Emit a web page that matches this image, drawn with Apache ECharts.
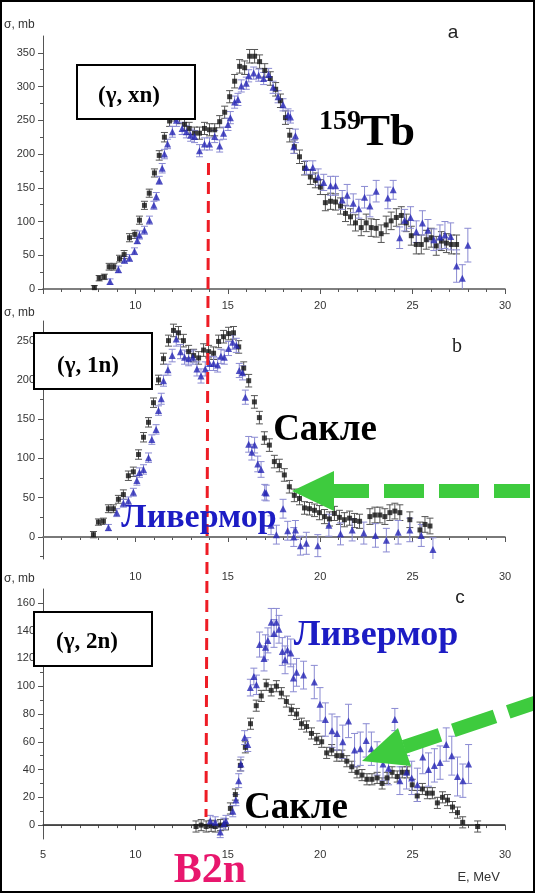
<!DOCTYPE html>
<html><head><meta charset="utf-8">
<script src="https://cdn.jsdelivr.net/npm/echarts@6/dist/echarts.min.js"></script>
<style>html,body{margin:0;padding:0;background:#fff}#c{width:535px;height:893px}</style>
</head><body><div id="c"></div>
<script>
// ---- tick labels ----
const xLabelsAB = [10, 15, 20, 25, 30];
const xLabelsC = [5, 10, 15, 20, 25, 30];
const yTicksA = [0, 50, 100, 150, 200, 250, 300, 350];
const yMinorA = [25, 75, 125, 175, 225, 275, 325];
const yTicksB = [0, 50, 100, 150, 200, 250];
const yMinorB = [-25, 25, 75, 125, 175, 225];
const yTicksC = [0, 20, 40, 60, 80, 100, 120, 140, 160];
const yMinorC = [10, 30, 50, 70, 90, 110, 130, 150];

// ---- data: [E (MeV), sigma (mb), error (mb)] ----
const saclayXn = [[7.78,2,3],[8.04,16,4],[8.32,18,4],[8.58,33,5],[8.83,33,5],[9.14,45,5],[9.39,51,6],[9.68,76,6],[9.97,81,6],[10.22,102,6],[10.49,124,6],[10.75,142,6],[11.03,172,6],[11.29,198,7],[11.57,225,7],[11.85,249,8],[12.12,258,9],[12.39,254,9],[12.66,244,9],[12.91,238,9],[13.2,231,9],[13.47,231,9],[13.74,238,9],[14.01,236,9],[14.29,236,9],[14.56,248,9],[14.83,262,9],[15.1,285,9],[15.37,308,10],[15.64,330,10],[15.91,328,10],[16.18,345,10],[16.45,345,10],[16.72,337,10],[17.0,324,10],[17.3,312,10],[17.59,296,10],[17.85,279,10],[18.12,254,10],[18.35,228,10],[18.6,211,10],[18.88,196,10],[19.15,179,10],[19.47,166,11],[19.74,161,11],[20.01,151,11],[20.28,128,12],[20.56,130,12],[20.83,129,12],[21.1,123,12],[21.37,112,12],[21.64,107,12],[21.91,98,12],[22.22,91,12],[22.49,98,13],[22.76,91,13],[23.03,90,13],[23.3,82,13],[23.57,95,13],[23.84,101,13],[24.12,106,13],[24.39,109,13],[24.66,98,13],[24.93,79,14],[25.2,66,14],[25.47,66,14],[25.74,73,14],[26.01,76,14],[26.28,64,14],[26.56,71,14],[26.83,68,14],[27.1,66,14],[27.38,66,14]];
const livermoreXn = [[8.63,11,4],[9.08,29,5],[9.41,43,5],[9.68,46,5],[9.95,56,5],[10.1,72,5],[10.22,80,6],[10.49,87,6],[10.76,102,6],[11.0,124,6],[11.13,137,6],[11.29,161,6],[11.45,179,7],[11.57,200,7],[11.74,215,7],[12.0,233,8],[12.22,250,9],[12.53,238,9],[12.76,233,9],[12.99,228,9],[13.2,226,9],[13.47,205,9],[13.74,215,9],[14.01,215,9],[14.29,226,9],[14.56,212,9],[14.77,231,9],[15.01,244,9],[15.14,254,9],[15.37,277,9],[15.55,281,9],[15.73,301,9],[16.0,305,9],[16.13,316,9],[16.4,320,9],[16.67,317,9],[16.94,312,9],[17.21,318,9],[17.45,299,9],[17.72,285,9],[17.99,273,9],[18.26,258,9],[18.39,255,9],[18.57,211,10],[18.66,227,10],[19.25,180,10],[19.6,180,10],[19.89,166,12],[20.19,158,12],[20.56,153,14],[20.83,153,14],[21.19,132,14],[21.46,139,16],[21.79,127,14],[22.09,119,14],[22.4,136,16],[22.69,123,16],[23.03,145,16],[23.66,135,16],[23.95,147,14],[24.3,76,16],[24.57,102,16],[24.89,106,16],[25.2,85,16],[25.53,98,18],[25.83,87,16],[26.15,73,16],[26.48,77,18],[26.75,80,20],[27.06,78,20],[27.38,34,24],[27.69,16,20],[27.99,65,25]];

const saclay1n = [[7.73,3,4],[8.0,19,4],[8.27,20,4],[8.54,36,5],[8.81,36,5],[9.08,48,5],[9.35,54,6],[9.62,78,6],[9.89,83,6],[10.17,105,6],[10.44,127,6],[10.71,146,6],[10.98,171,6],[11.25,200,6],[11.52,227,7],[11.79,250,7],[12.06,263,8],[12.33,260,8],[12.6,250,8],[12.88,236,8],[13.15,231,8],[13.42,228,8],[13.69,238,8],[13.96,236,8],[14.23,234,8],[14.5,249,8],[14.77,255,8],[15.04,259,8],[15.31,260,8],[15.59,242,8],[15.86,215,8],[16.13,199,8],[16.44,172,8],[16.71,152,8],[16.98,126,8],[17.25,117,8],[17.52,96,8],[17.79,91,8],[18.06,79,8],[18.33,64,8],[18.6,53,8],[18.88,49,8],[19.15,37,8],[19.42,36,8],[19.69,34,8],[19.96,31,9],[20.23,26,9],[20.5,23,9],[20.77,30,9],[21.04,25,9],[21.31,22,9],[21.59,24,9],[21.86,21,9],[22.13,20,9],[22.69,26,10],[22.96,28,10],[23.23,28,10],[23.5,26,10],[23.77,31,10],[24.04,33,10],[24.31,31,10],[24.85,22,10],[25.4,9,10],[25.67,16,10],[25.94,14,10]];
const livermore1n = [[8.54,12,4],[8.99,31,5],[9.35,43,5],[9.62,46,5],[9.89,57,5],[10.08,72,6],[10.22,82,6],[10.44,86,6],[10.71,101,6],[10.89,124,6],[11.12,137,6],[11.25,161,6],[11.4,176,7],[11.52,199,7],[11.76,213,7],[11.99,231,8],[12.21,252,9],[12.44,236,9],[12.66,229,9],[12.88,227,9],[13.11,229,9],[13.33,214,9],[13.55,205,9],[13.78,214,9],[14.01,221,9],[14.23,221,9],[14.45,219,9],[14.63,230,9],[14.81,229,9],[15.04,240,9],[15.26,248,9],[15.46,244,9],[15.62,212,9],[15.8,209,9],[15.95,178,9],[16.13,118,10],[16.3,108,10],[16.45,117,10],[16.62,93,10],[16.8,86,10],[17.0,57,10],[17.08,56,10],[17.34,15,12],[17.63,3,12],[17.99,36,12],[18.24,8,12],[18.57,0,12],[18.66,9,12],[18.93,-11,12],[19.25,-8,14],[19.87,-11,14],[20.47,15,14],[21.1,4,14],[21.73,9,14],[22.36,5,14],[22.99,2,15],[23.58,-4,15],[24.22,6,15],[24.85,9,15],[25.47,2,14],[26.1,-16,15]];

const saclay2n = [[13.28,-1,4],[13.56,0,4],[13.83,-1,4],[14.1,-0.5,4],[14.32,-1,4],[14.6,0,4],[14.86,0.5,4],[15.14,12,4],[15.41,22,4],[15.68,43,4],[15.95,56,4],[16.23,73,4],[16.54,86,4],[16.81,93,4],[17.08,101,4],[17.35,97,4],[17.63,100,4],[17.9,95,4],[18.17,89,4],[18.44,83,4],[18.72,80,4],[18.99,73,4],[19.26,71,4],[19.53,66,4],[19.81,62,4],[20.08,60,4],[20.35,52,4],[20.62,54,4],[20.9,50,4],[21.17,50,4],[21.44,46,4],[21.71,42,4],[21.99,38,4],[22.26,36,4],[22.53,33,4],[22.8,33,4],[23.08,34,4],[23.35,30,4],[23.62,34,4],[23.89,38,4],[24.17,35,4],[24.44,38,4],[24.71,38,4],[24.98,29,4],[25.25,21,4],[25.53,26,4],[25.8,23,4],[26.07,23,4],[26.34,16,4],[26.62,20,4],[26.89,18,4],[27.16,13,4],[27.43,9,4],[27.71,2,4],[28.52,-1,4]];
const livermore2n = [[14.05,3,4],[14.32,2,4],[14.59,-5,4],[14.78,1,4],[14.9,3,4],[15.27,10,4],[15.44,18,4],[15.59,32,5],[15.71,44,5],[15.91,63,5],[16.08,58,5],[16.22,99,6],[16.41,107,6],[16.55,101,7],[16.72,130,9],[16.96,120,9],[17.04,128,9],[17.17,133,9],[17.35,146,10],[17.5,138,10],[17.63,146,10],[17.77,141,10],[17.95,125,10],[18.1,119,10],[18.23,126,10],[18.41,124,10],[18.55,106,10],[18.72,110,10],[19.1,108,10],[19.68,103,12],[19.99,87,12],[20.28,76,12],[20.64,68,12],[20.91,66,12],[21.22,60,12],[21.53,75,12],[21.86,54,12],[22.17,55,12],[22.49,61,12],[22.77,55,12],[23.08,48,12],[23.4,44,12],[23.7,41,12],[24.04,76,8],[24.31,32,10],[24.67,38,12],[24.95,34,12],[25.26,29,12],[25.55,49,12],[25.86,40,12],[26.18,43,12],[26.49,45,12],[26.82,58,12],[27.12,50,14],[27.43,35,14],[27.72,32,12],[28.03,44,14]];

// ---- layout / style ----
const LEFT = 43, RIGHT = 30;
const axisCol = '#555';
const labelFont = {fontFamily: 'Liberation Sans, Arial, sans-serif', fontSize: 11, color: '#333'};
const blackCol = '#111', blueCol = '#2424b4';
const blackErr = '#555', blueErr = '#8a8ad2';
const textBlue = '#1c1cc4', green = '#3ecb3e', red = '#ee1c25';

function xAxis(grid, labels, margin) {
  return {type: 'value', gridIndex: grid, min: 5, max: 30, interval: 5,
    axisLine: {show: true, lineStyle: {color: axisCol, width: 1.5}},
    axisTick: {show: true, length: 5, lineStyle: {color: axisCol}},
    minorTick: {show: true, splitNumber: 5, length: 3, lineStyle: {color: axisCol}},
    axisLabel: Object.assign({customValues: labels, margin: margin}, labelFont),
    splitLine: {show: false}, minorSplitLine: {show: false}};
}
function yAxis(grid, min, max, ticks) {
  return {type: 'value', gridIndex: grid, min: min, max: max, position: 'left',
    axisLine: {show: true, onZero: false, lineStyle: {color: axisCol, width: 1}},
    axisTick: {show: true, length: 5, customValues: ticks, lineStyle: {color: axisCol}},
    axisLabel: Object.assign({customValues: ticks, margin: 8}, labelFont),
    splitLine: {show: false}};
}
function yMinor(grid, min, max, ticks) {
  return {type: 'value', gridIndex: grid, min: min, max: max, position: 'left',
    axisLine: {show: false},
    axisTick: {show: true, length: 3, customValues: ticks, lineStyle: {color: axisCol}},
    axisLabel: {show: false}, splitLine: {show: false}};
}
function errSeries(data, xi, yi, color) {
  return {type: 'custom', xAxisIndex: xi, yAxisIndex: yi, data: data, clip: true, z: 2, silent: true,
    encode: {x: 0, y: 1},
    renderItem: function (params, api) {
      const x = api.value(0), y = api.value(1), e = api.value(2);
      const p1 = api.coord([x, y + e]), p2 = api.coord([x, y - e]);
      const w = 3.5, st = {stroke: color, lineWidth: 1};
      return {type: 'group', children: [
        {type: 'line', shape: {x1: p1[0], y1: p1[1], x2: p2[0], y2: p2[1]}, style: st},
        {type: 'line', shape: {x1: p1[0] - w, y1: p1[1], x2: p1[0] + w, y2: p1[1]}, style: st},
        {type: 'line', shape: {x1: p2[0] - w, y1: p2[1], x2: p2[0] + w, y2: p2[1]}, style: st}
      ]};
    }};
}
function pts(data, xi, yi, kind) {
  return {type: 'scatter', xAxisIndex: xi, yAxisIndex: yi, z: kind === 'sq' ? 3 : 4, silent: true,
    data: data.map(d => [d[0], d[1]]),
    symbol: kind === 'sq' ? 'rect' : 'triangle', symbolSize: kind === 'sq' ? 5 : 7,
    itemStyle: {color: kind === 'sq' ? blackCol : blueCol}};
}
function zeroLine(xi, yi, color, w) {
  return {type: 'line', xAxisIndex: xi, yAxisIndex: yi, data: [[5, 0], [30, 0]], symbol: 'none',
    silent: true, z: 1, lineStyle: {color: color, width: w}};
}
function txt(x, y, s, font, fill, align, valign) {
  return {type: 'text', z: 50, style: {x: x, y: y, text: s, font: font, fill: fill,
    textAlign: align || 'left', textVerticalAlign: valign || 'middle', align: align || 'left', verticalAlign: valign || 'middle'}};
}
function box(x, y, w, h) {
  return {type: 'rect', z: 40, shape: {x: x, y: y, width: w, height: h}, style: {fill: '#fff', stroke: '#000', lineWidth: 2}};
}
const serifB = 'bold {s}px "Liberation Serif", "Times New Roman", serif';
const sf = s => serifB.replace('{s}', s);
const sans = s => s + 'px "Liberation Sans", Arial, sans-serif';

const chart = echarts.init(document.getElementById('c'), null, {renderer: 'canvas'});
chart.setOption({
  animation: false,
  backgroundColor: '#fff',
  grid: [
    {left: LEFT, right: RIGHT, top: 36, height: 253, outerBoundsMode: 'none', containLabel: false},
    {left: LEFT, right: RIGHT, top: 321, height: 238, outerBoundsMode: 'none', containLabel: false},
    {left: LEFT, right: RIGHT, top: 589, height: 250, outerBoundsMode: 'none', containLabel: false}
  ],
  xAxis: [xAxis(0, xLabelsAB, 11), xAxis(1, xLabelsAB, 12), xAxis(2, xLabelsC, 10)],
  yAxis: [yAxis(0, 0, 375, yTicksA), yAxis(1, -28, 275, yTicksB), yAxis(2, -10, 170, yTicksC),
          yMinor(0, 0, 375, yMinorA), yMinor(1, -28, 275, yMinorB), yMinor(2, -10, 170, yMinorC)],
  series: [
    zeroLine(1, 1, '#777', 1.5), zeroLine(2, 2, '#222', 1),
    errSeries(saclayXn, 0, 0, blackErr), pts(saclayXn, 0, 0, 'sq'),
    errSeries(livermoreXn, 0, 0, blueErr), pts(livermoreXn, 0, 0, 'tri'),
    errSeries(saclay1n, 1, 1, blackErr), pts(saclay1n, 1, 1, 'sq'),
    errSeries(livermore1n, 1, 1, blueErr), pts(livermore1n, 1, 1, 'tri'),
    errSeries(saclay2n, 2, 2, blackErr), pts(saclay2n, 2, 2, 'sq'),
    errSeries(livermore2n, 2, 2, blueErr), pts(livermore2n, 2, 2, 'tri')
  ],
  graphic: [
    // y-axis names
    txt(4, 25, 'σ, mb', sans(12), '#333'),
    txt(4, 313, 'σ, mb', sans(12), '#333'),
    txt(4, 579, 'σ, mb', sans(12), '#333'),
    txt(500, 877, 'E, MeV', sans(13), '#333', 'right'),
    // panel letters
    txt(453, 33, 'a', sans(19), '#222', 'center'),
    txt(457, 347, 'b', '20px "Liberation Serif", serif', '#222', 'center'),
    txt(460, 598, 'c', sans(19), '#222', 'center'),
    // reaction boxes
    box(77, 65, 118, 54), txt(129, 96, '(γ, xn)', sf(23), '#000', 'center'),
    box(34, 333, 118, 56), txt(88, 366, '(γ, 1n)', sf(23), '#000', 'center'),
    box(34, 612, 118, 54), txt(87, 642, '(γ, 2n)', sf(23), '#000', 'center'),
    // nucleus
    txt(319, 122, '159', sf(28), '#000'),
    txt(360, 133, 'Tb', sf(45), '#000'),
    // labels
    txt(325, 430, 'Сакле', sf(37), '#000', 'center'),
    txt(199, 518, 'Ливермор', sf(34), textBlue, 'center'),
    txt(376, 636, 'Ливермор', sf(36), textBlue, 'center'),
    txt(296, 808, 'Сакле', sf(37), '#000', 'center'),
    txt(210, 871, 'B2n', sf(42), '#e8176d', 'center'),
    // red dashed threshold line
    {type: 'line', z: 30, shape: {x1: 208.5, y1: 163, x2: 206, y2: 817},
      style: {stroke: red, lineWidth: 3, lineDash: [12, 7]}},
    // green arrow (b)
    {type: 'polygon', z: 45, shape: {points: [[292, 491], [334, 471], [334, 511]]}, style: {fill: green}},
    {type: 'line', z: 45, shape: {x1: 333, y1: 491, x2: 545, y2: 491},
      style: {stroke: green, lineWidth: 14, lineDash: [36, 15, 40, 15, 40, 15]}},
    // green arrow (c)
    {type: 'polygon', z: 45, shape: {points: [[362, 761], [398, 728], [411, 766]]}, style: {fill: green}},
    {type: 'line', z: 45, shape: {x1: 404, y1: 747, x2: 570, y2: 691},
      style: {stroke: green, lineWidth: 14, lineDash: [38, 14, 44, 14, 44, 14]}},
    // outer frame
    {type: 'rect', z: 100, shape: {x: 1, y: 1, width: 533, height: 891}, style: {fill: 'none', stroke: '#000', lineWidth: 2}}
  ]
});
</script></body></html>
